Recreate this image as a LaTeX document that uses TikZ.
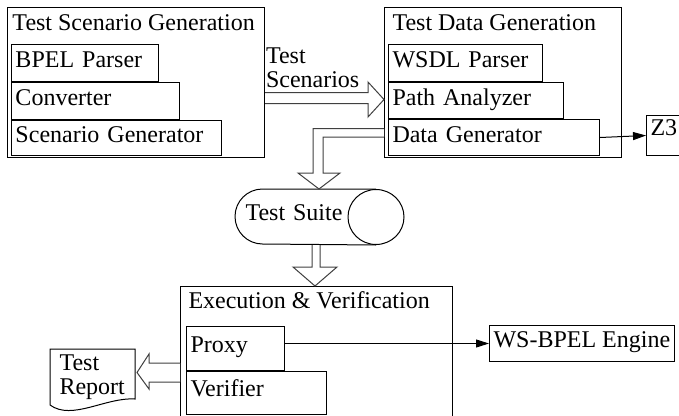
\documentclass[tikz,border=0pt]{standalone}
\usepackage{fontspec}
\setmainfont{Liberation Serif}
\usetikzlibrary{calc}
\usetikzlibrary{arrows.meta}
\newcommand\diagfont[0]{\fontsize{24}{23.5}\selectfont}

\begin{document}
\begin{tikzpicture}[x=1pt,y=-1pt,line width=1pt,
  every node/.style={font=\diagfont},
  frame/.style={draw,anchor=north west,inner sep=0pt},
  title/.style={anchor=base west,inner sep=0pt},
  part/.style 2 args={draw,anchor=north west,inner xsep=4pt,inner ysep=0pt,align=left,
    text height=0.7em,text depth=0pt,text width=#1,minimum height=#2},
  low/.style={text height=0.92em},
  blockarr/.style={draw=black!75,fill=white,line join=miter},
  thinarr/.style={-{Triangle[length=13pt,width=8pt]}}]

\useasboundingbox (0,0) rectangle (679,415);

\node[frame,minimum width=257pt,minimum height=150pt] (tsg) at (7,7) {};
\node[title] (tsgtitle) at (12,30) {Test Scenario Generation};
\node[part={139pt}{37pt},low] (bpel) at (11,44) {BPEL Parser};
\node[part={160pt}{37pt},low] (conv) at (bpel.south west) {Converter};
\node[part={202pt}{35pt},low] (scen) at (conv.south west) {Scenario Generator};

\node[frame,minimum width=237pt,minimum height=150pt] (tdg) at (384,7) {};
\node[title] (tdgtitle) at (392,30) {Test Data Generation};
\node[part={146pt}{37pt},low] (wsdl) at (388,44) {WSDL Parser};
\node[part={167pt}{36pt},low] (path) at (wsdl.south west) {Path Analyzer};
\node[part={203pt}{36pt},low] (datagen) at (path.south west) {Data Generator};

\node[part={37pt}{40pt},text height=0.4em,text depth=0.4em] (z3) at (646,115) {Z3};

\node[anchor=north west,inner sep=0pt,align=left] (scenlbl) at (265.5,47.5) {Test\\Scenarios};

\node[anchor=north west,inner xsep=10pt,inner ysep=0pt,align=left,text width=148pt,
  text height=0.7em,text depth=0pt,minimum height=55pt] (suite) at (235,189) {Test Suite};
\draw ([xshift=-28pt]suite.north east) -- ([xshift=27.5pt]suite.north west)
  arc[start angle=270,end angle=90,radius=27.5] -- ([xshift=-28pt]suite.south east);
\draw ([xshift=-28pt]suite.east) ellipse [x radius=28,y radius=27.5];

\node[frame,minimum width=272pt,minimum height=145pt] (exec) at (180,286) {};
\node[title] (exectitle) at (188,308) {Execution \& Verification};
\node[part={90pt}{44pt}] (proxy) at (186,326) {Proxy};
\node[part={132pt}{43pt}] (verif) at (proxy.south west) {Verifier};

\node[draw,anchor=north west,inner xsep=4pt,inner ysep=0pt,text height=0.7em,text depth=0pt,minimum height=36pt] (engine) at (489,325) {WS-BPEL Engine};

\node[anchor=north west,inner xsep=9pt,inner ysep=0pt,align=left,text width=66pt,minimum height=55pt] (report) at (50,349) {Test\\Report};
\draw (report.south west) -- (report.north west) -- (report.north east) -- ([yshift=6pt]report.south east)
  .. controls ([xshift=-29pt,yshift=8pt]report.south east) and ([xshift=22pt,yshift=-16pt]report.south west) .. (report.south west);

\draw[blockarr] (tsg.east |- 0,92.5) -- (368,92.5) -- (368,82) -- (tdg.west |- 0,99.5) -- (368,117) -- (368,103.5) -- (tsg.east |- 0,103.5);
\draw[blockarr] (tdg.west |- 0,128.5) -- (313,128.5) -- (313,173) -- (298,173) -- (319,0 |- suite.north) -- (340,173) -- (323,173) -- (323,137) -- (tdg.west |- 0,137);
\draw[blockarr] (312,0 |- suite.south) -- (312,267) -- (293,267) -- (315,0 |- exec.north) -- (337,267) -- (320,267) -- (320,0 |- suite.south);
\draw[blockarr] (exec.west |- 0,363) -- (149,363) -- (149,354) -- (137,372.5) -- (149,389) -- (149,382) -- (exec.west |- 0,382);

\draw[thinarr] (datagen.east) -- (z3.west);
\draw[thinarr] (proxy.east |- engine.west) -- (engine.west);

\end{tikzpicture}
\end{document}
